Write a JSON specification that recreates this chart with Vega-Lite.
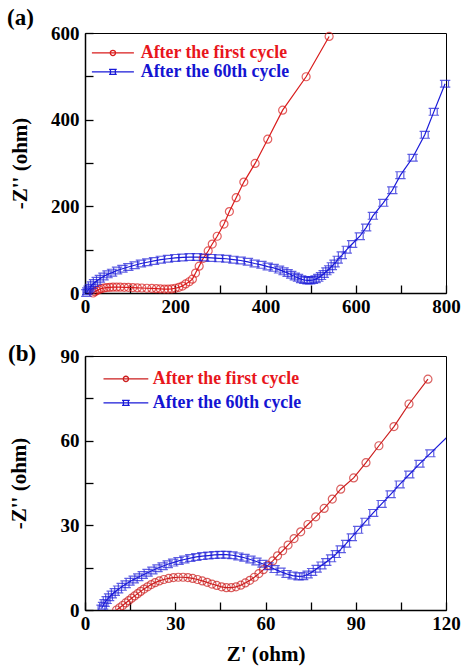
{
  "$schema": "https://vega.github.io/schema/vega-lite/v6.json",
  "padding": {"left": 6, "top": 6, "right": 10, "bottom": 5},
  "background": "white",
  "config": {
    "font": "Liberation Serif",
    "style": {
      "guide-label": {"font": "Liberation Serif", "fontWeight": "bold"},
      "guide-title": {"font": "Liberation Serif", "fontWeight": "bold"}
    },
    "view": {"stroke": "#000", "strokeWidth": 1},
    "axis": {
      "grid": false,
      "labelFlush": false,
      "labelFont": "Liberation Serif",
      "labelFontWeight": "bold",
      "labelFontSize": 19,
      "labelColor": "#000",
      "titleFont": "Liberation Serif",
      "titleFontWeight": "bold",
      "titleFontSize": 21,
      "titleColor": "#000",
      "domainColor": "#000",
      "domainWidth": 1.5,
      "tickColor": "#000",
      "tickWidth": 1.3,
      "tickSize": -8,
      "labelPadding": 14
    },
    "legend": {
      "labelFont": "Liberation Serif",
      "labelFontWeight": "bold",
      "labelFontSize": 17.8,
      "labelLimit": 400,
      "symbolSize": 49,
      "symbolStrokeWidth": 1.3,
      "symbolFillColor": "transparent",
      "padding": 0,
      "title": null
    }
  },
  "resolve": {"scale": {"color": "independent", "shape": "independent", "x": "independent", "y": "independent"}, "legend": {"color": "independent", "shape": "independent"}},
  "spacing": 25,
  "vconcat": [
    {
      "width": 361,
      "height": 260,
      "title": {"text": "(a)", "anchor": "start", "frame": "group", "dx": -78, "offset": -6, "fontSize": 23, "fontWeight": "bold", "font": "Liberation Serif", "color": "#000"},
      "data": {"values": [
        {"s": "After the first cycle", "x": 18, "y": 0},
        {"s": "After the first cycle", "x": 22, "y": 3},
        {"s": "After the first cycle", "x": 26, "y": 5.5},
        {"s": "After the first cycle", "x": 31, "y": 8},
        {"s": "After the first cycle", "x": 36, "y": 10},
        {"s": "After the first cycle", "x": 42, "y": 11.5},
        {"s": "After the first cycle", "x": 48, "y": 12.5},
        {"s": "After the first cycle", "x": 55, "y": 13},
        {"s": "After the first cycle", "x": 62, "y": 13.5},
        {"s": "After the first cycle", "x": 70, "y": 13.5},
        {"s": "After the first cycle", "x": 78, "y": 13.5},
        {"s": "After the first cycle", "x": 87, "y": 13},
        {"s": "After the first cycle", "x": 96, "y": 13},
        {"s": "After the first cycle", "x": 106, "y": 12.5},
        {"s": "After the first cycle", "x": 116, "y": 12},
        {"s": "After the first cycle", "x": 126, "y": 11.5},
        {"s": "After the first cycle", "x": 137, "y": 11},
        {"s": "After the first cycle", "x": 148, "y": 10.5},
        {"s": "After the first cycle", "x": 158, "y": 10},
        {"s": "After the first cycle", "x": 167, "y": 9.5},
        {"s": "After the first cycle", "x": 176, "y": 9},
        {"s": "After the first cycle", "x": 184, "y": 9},
        {"s": "After the first cycle", "x": 192, "y": 9.5},
        {"s": "After the first cycle", "x": 200, "y": 11},
        {"s": "After the first cycle", "x": 208, "y": 13},
        {"s": "After the first cycle", "x": 216, "y": 16},
        {"s": "After the first cycle", "x": 223, "y": 21},
        {"s": "After the first cycle", "x": 231, "y": 26},
        {"s": "After the first cycle", "x": 238, "y": 32},
        {"s": "After the first cycle", "x": 245, "y": 46},
        {"s": "After the first cycle", "x": 253, "y": 62},
        {"s": "After the first cycle", "x": 262, "y": 80},
        {"s": "After the first cycle", "x": 273, "y": 97},
        {"s": "After the first cycle", "x": 282, "y": 113},
        {"s": "After the first cycle", "x": 293, "y": 131},
        {"s": "After the first cycle", "x": 308, "y": 159},
        {"s": "After the first cycle", "x": 320, "y": 188},
        {"s": "After the first cycle", "x": 335, "y": 220},
        {"s": "After the first cycle", "x": 352, "y": 256},
        {"s": "After the first cycle", "x": 377, "y": 299},
        {"s": "After the first cycle", "x": 405, "y": 355},
        {"s": "After the first cycle", "x": 438, "y": 422},
        {"s": "After the first cycle", "x": 490, "y": 499},
        {"s": "After the first cycle", "x": 541, "y": 592},
        {"s": "After the 60th cycle", "x": 3, "y": 0},
        {"s": "After the 60th cycle", "x": 5, "y": 4},
        {"s": "After the 60th cycle", "x": 8, "y": 8},
        {"s": "After the 60th cycle", "x": 11, "y": 12},
        {"s": "After the 60th cycle", "x": 15, "y": 18},
        {"s": "After the 60th cycle", "x": 20, "y": 23},
        {"s": "After the 60th cycle", "x": 26, "y": 28},
        {"s": "After the 60th cycle", "x": 33, "y": 33},
        {"s": "After the 60th cycle", "x": 41, "y": 38},
        {"s": "After the 60th cycle", "x": 50, "y": 43},
        {"s": "After the 60th cycle", "x": 60, "y": 47},
        {"s": "After the 60th cycle", "x": 71, "y": 52},
        {"s": "After the 60th cycle", "x": 83, "y": 56},
        {"s": "After the 60th cycle", "x": 96, "y": 60},
        {"s": "After the 60th cycle", "x": 110, "y": 64},
        {"s": "After the 60th cycle", "x": 124, "y": 68},
        {"s": "After the 60th cycle", "x": 138, "y": 71},
        {"s": "After the 60th cycle", "x": 153, "y": 74},
        {"s": "After the 60th cycle", "x": 168, "y": 77},
        {"s": "After the 60th cycle", "x": 184, "y": 79},
        {"s": "After the 60th cycle", "x": 200, "y": 81},
        {"s": "After the 60th cycle", "x": 216, "y": 82},
        {"s": "After the 60th cycle", "x": 232, "y": 83},
        {"s": "After the 60th cycle", "x": 248, "y": 83},
        {"s": "After the 60th cycle", "x": 264, "y": 82},
        {"s": "After the 60th cycle", "x": 280, "y": 81},
        {"s": "After the 60th cycle", "x": 297, "y": 80},
        {"s": "After the 60th cycle", "x": 313, "y": 79},
        {"s": "After the 60th cycle", "x": 329, "y": 77},
        {"s": "After the 60th cycle", "x": 345, "y": 75},
        {"s": "After the 60th cycle", "x": 361, "y": 72},
        {"s": "After the 60th cycle", "x": 376, "y": 68},
        {"s": "After the 60th cycle", "x": 391, "y": 65},
        {"s": "After the 60th cycle", "x": 405, "y": 61},
        {"s": "After the 60th cycle", "x": 418, "y": 58},
        {"s": "After the 60th cycle", "x": 430, "y": 54},
        {"s": "After the 60th cycle", "x": 440, "y": 50},
        {"s": "After the 60th cycle", "x": 449, "y": 46},
        {"s": "After the 60th cycle", "x": 457, "y": 42},
        {"s": "After the 60th cycle", "x": 465, "y": 38},
        {"s": "After the 60th cycle", "x": 472, "y": 35},
        {"s": "After the 60th cycle", "x": 479, "y": 32},
        {"s": "After the 60th cycle", "x": 486, "y": 30},
        {"s": "After the 60th cycle", "x": 493, "y": 29},
        {"s": "After the 60th cycle", "x": 499, "y": 29},
        {"s": "After the 60th cycle", "x": 505, "y": 30},
        {"s": "After the 60th cycle", "x": 511, "y": 32},
        {"s": "After the 60th cycle", "x": 517, "y": 35},
        {"s": "After the 60th cycle", "x": 523, "y": 39},
        {"s": "After the 60th cycle", "x": 529, "y": 44},
        {"s": "After the 60th cycle", "x": 535, "y": 50},
        {"s": "After the 60th cycle", "x": 541, "y": 55},
        {"s": "After the 60th cycle", "x": 547, "y": 62},
        {"s": "After the 60th cycle", "x": 553, "y": 68},
        {"s": "After the 60th cycle", "x": 560, "y": 77},
        {"s": "After the 60th cycle", "x": 569, "y": 87},
        {"s": "After the 60th cycle", "x": 580, "y": 100},
        {"s": "After the 60th cycle", "x": 592, "y": 113},
        {"s": "After the 60th cycle", "x": 609, "y": 131},
        {"s": "After the 60th cycle", "x": 623, "y": 151},
        {"s": "After the 60th cycle", "x": 638, "y": 178},
        {"s": "After the 60th cycle", "x": 661, "y": 208},
        {"s": "After the 60th cycle", "x": 681, "y": 237},
        {"s": "After the 60th cycle", "x": 699, "y": 272},
        {"s": "After the 60th cycle", "x": 726, "y": 312},
        {"s": "After the 60th cycle", "x": 753, "y": 365},
        {"s": "After the 60th cycle", "x": 773, "y": 418},
        {"s": "After the 60th cycle", "x": 798, "y": 483}
      ]},
      "encoding": {
        "x": {"field": "x", "type": "quantitative", "scale": {"domain": [0, 800], "nice": false},
              "axis": {"values": [0, 100, 200, 300, 400, 500, 600, 700, 800], "labelExpr": "datum.value % 200 === 0 ? datum.label : ''", "title": null, "labelPadding": 12}},
        "y": {"field": "y", "type": "quantitative", "scale": {"domain": [0, 600], "nice": false},
              "axis": {"values": [0, 100, 200, 300, 400, 500, 600], "labelExpr": "datum.value % 200 === 0 ? datum.label : ''", "title": "-Z'' (ohm)", "titlePadding": 20}},
        "color": {"field": "s", "type": "nominal",
                  "scale": {"domain": ["After the first cycle", "After the 60th cycle"], "range": ["#d91c1c", "#1a1ad8"]},
                  "legend": {"orient": "top-left", "offset": 11, "symbolOffset": 8, "labelOffset": 19, "rowPadding": 0,
                    "encode": {"labels": {"update": {"fill": {"signal": "datum.value === 'After the first cycle' ? '#e8161c' : '#1414d2'"}}}}}}
      },
      "layer": [
        {"mark": {"type": "line", "strokeWidth": 1.2}},
        {"transform": [{"filter": "datum.s === 'After the first cycle'"}],
         "mark": {"type": "point", "filled": false, "strokeWidth": 1.2, "size": 64, "shape": "circle"}},
        {"transform": [{"filter": "datum.s === 'After the 60th cycle'"}],
         "mark": {"type": "point", "filled": false, "strokeWidth": 1.2, "size": 64, "shape": "M-0.85,-0.85H0.85V0.85H-0.85ZM-1.3,-0.85H1.3M-1.3,0.85H1.3"}},
        {"transform": [{"filter": "false"}],
         "mark": {"type": "point", "filled": false, "strokeWidth": 1.2},
         "encoding": {"shape": {"field": "s", "type": "nominal",
           "scale": {"domain": ["After the first cycle", "After the 60th cycle"], "range": ["M-6,0H6M-0.75,0A0.75,0.75 0 1,0 0.75,0A0.75,0.75 0 1,0 -0.75,0", "M-6,0H6M-0.7,-0.7H0.7V0.7H-0.7ZM-1.1,-0.7H1.1M-1.1,0.7H1.1"]},
           "legend": null}}}
      ]
    },
    {
      "width": 361,
      "height": 254,
      "title": {"text": "(b)", "anchor": "start", "frame": "group", "dx": -77, "offset": -19, "fontSize": 23, "fontWeight": "bold", "font": "Liberation Serif", "color": "#000"},
      "data": {"values": [
        {"s": "After the first cycle", "x": 10.5, "y": 0},
        {"s": "After the first cycle", "x": 11.5, "y": 0.8},
        {"s": "After the first cycle", "x": 12.5, "y": 1.6},
        {"s": "After the first cycle", "x": 13.5, "y": 2.5},
        {"s": "After the first cycle", "x": 14.5, "y": 3.3},
        {"s": "After the first cycle", "x": 15.5, "y": 4.2},
        {"s": "After the first cycle", "x": 16.5, "y": 5},
        {"s": "After the first cycle", "x": 17.5, "y": 5.8},
        {"s": "After the first cycle", "x": 18.5, "y": 6.6},
        {"s": "After the first cycle", "x": 19.6, "y": 7.4},
        {"s": "After the first cycle", "x": 20.8, "y": 8.2},
        {"s": "After the first cycle", "x": 22, "y": 9},
        {"s": "After the first cycle", "x": 23.3, "y": 9.7},
        {"s": "After the first cycle", "x": 24.7, "y": 10.3},
        {"s": "After the first cycle", "x": 26.2, "y": 10.8},
        {"s": "After the first cycle", "x": 27.8, "y": 11.2},
        {"s": "After the first cycle", "x": 29.4, "y": 11.5},
        {"s": "After the first cycle", "x": 31, "y": 11.6},
        {"s": "After the first cycle", "x": 32.6, "y": 11.6},
        {"s": "After the first cycle", "x": 34.2, "y": 11.5},
        {"s": "After the first cycle", "x": 35.8, "y": 11.2},
        {"s": "After the first cycle", "x": 37.4, "y": 10.8},
        {"s": "After the first cycle", "x": 39, "y": 10.3},
        {"s": "After the first cycle", "x": 40.6, "y": 9.8},
        {"s": "After the first cycle", "x": 42.2, "y": 9.2},
        {"s": "After the first cycle", "x": 43.8, "y": 8.7},
        {"s": "After the first cycle", "x": 45.4, "y": 8.2},
        {"s": "After the first cycle", "x": 47, "y": 7.9},
        {"s": "After the first cycle", "x": 48.6, "y": 7.9},
        {"s": "After the first cycle", "x": 50.2, "y": 8.2},
        {"s": "After the first cycle", "x": 51.8, "y": 8.8},
        {"s": "After the first cycle", "x": 53.3, "y": 9.6},
        {"s": "After the first cycle", "x": 54.8, "y": 10.5},
        {"s": "After the first cycle", "x": 56.3, "y": 11.6},
        {"s": "After the first cycle", "x": 57.8, "y": 12.9},
        {"s": "After the first cycle", "x": 59.3, "y": 14.3},
        {"s": "After the first cycle", "x": 60.8, "y": 15.8},
        {"s": "After the first cycle", "x": 62.4, "y": 17.4},
        {"s": "After the first cycle", "x": 64, "y": 19.2},
        {"s": "After the first cycle", "x": 65.7, "y": 21},
        {"s": "After the first cycle", "x": 67.5, "y": 23},
        {"s": "After the first cycle", "x": 69.5, "y": 25.3},
        {"s": "After the first cycle", "x": 71.7, "y": 27.7},
        {"s": "After the first cycle", "x": 74.1, "y": 30.3},
        {"s": "After the first cycle", "x": 76.7, "y": 33},
        {"s": "After the first cycle", "x": 79.5, "y": 36},
        {"s": "After the first cycle", "x": 82.2, "y": 39.3},
        {"s": "After the first cycle", "x": 85, "y": 42.8},
        {"s": "After the first cycle", "x": 89.3, "y": 46.8},
        {"s": "After the first cycle", "x": 93.4, "y": 52.2},
        {"s": "After the first cycle", "x": 97.7, "y": 58.2},
        {"s": "After the first cycle", "x": 102.7, "y": 65},
        {"s": "After the first cycle", "x": 107.7, "y": 73},
        {"s": "After the first cycle", "x": 114, "y": 81.8},
        {"s": "After the 60th cycle", "x": 5.5, "y": 0.5},
        {"s": "After the 60th cycle", "x": 6, "y": 1.5},
        {"s": "After the 60th cycle", "x": 6.5, "y": 2.5},
        {"s": "After the 60th cycle", "x": 7.2, "y": 3.5},
        {"s": "After the 60th cycle", "x": 8, "y": 4.5},
        {"s": "After the 60th cycle", "x": 8.9, "y": 5.5},
        {"s": "After the 60th cycle", "x": 9.9, "y": 6.4},
        {"s": "After the 60th cycle", "x": 11, "y": 7.3},
        {"s": "After the 60th cycle", "x": 12.2, "y": 8.2},
        {"s": "After the 60th cycle", "x": 13.5, "y": 9.1},
        {"s": "After the 60th cycle", "x": 14.8, "y": 10},
        {"s": "After the 60th cycle", "x": 16.2, "y": 10.8},
        {"s": "After the 60th cycle", "x": 17.7, "y": 11.6},
        {"s": "After the 60th cycle", "x": 19.2, "y": 12.4},
        {"s": "After the 60th cycle", "x": 20.8, "y": 13.2},
        {"s": "After the 60th cycle", "x": 22.4, "y": 14},
        {"s": "After the 60th cycle", "x": 24.1, "y": 14.8},
        {"s": "After the 60th cycle", "x": 25.8, "y": 15.5},
        {"s": "After the 60th cycle", "x": 27.5, "y": 16.2},
        {"s": "After the 60th cycle", "x": 29.3, "y": 16.8},
        {"s": "After the 60th cycle", "x": 31.1, "y": 17.4},
        {"s": "After the 60th cycle", "x": 33, "y": 17.9},
        {"s": "After the 60th cycle", "x": 35, "y": 18.4},
        {"s": "After the 60th cycle", "x": 37, "y": 18.8},
        {"s": "After the 60th cycle", "x": 39, "y": 19.1},
        {"s": "After the 60th cycle", "x": 41, "y": 19.3},
        {"s": "After the 60th cycle", "x": 43, "y": 19.5},
        {"s": "After the 60th cycle", "x": 45, "y": 19.6},
        {"s": "After the 60th cycle", "x": 47, "y": 19.6},
        {"s": "After the 60th cycle", "x": 49, "y": 19.4},
        {"s": "After the 60th cycle", "x": 51, "y": 19},
        {"s": "After the 60th cycle", "x": 53, "y": 18.5},
        {"s": "After the 60th cycle", "x": 55, "y": 17.9},
        {"s": "After the 60th cycle", "x": 57, "y": 17.2},
        {"s": "After the 60th cycle", "x": 59, "y": 16.4},
        {"s": "After the 60th cycle", "x": 61, "y": 15.5},
        {"s": "After the 60th cycle", "x": 63, "y": 14.5},
        {"s": "After the 60th cycle", "x": 65, "y": 13.6},
        {"s": "After the 60th cycle", "x": 67, "y": 12.8},
        {"s": "After the 60th cycle", "x": 69, "y": 12.2},
        {"s": "After the 60th cycle", "x": 71, "y": 11.9},
        {"s": "After the 60th cycle", "x": 72.5, "y": 12},
        {"s": "After the 60th cycle", "x": 74, "y": 12.6},
        {"s": "After the 60th cycle", "x": 75.5, "y": 13.5},
        {"s": "After the 60th cycle", "x": 77, "y": 14.6},
        {"s": "After the 60th cycle", "x": 78.6, "y": 15.8},
        {"s": "After the 60th cycle", "x": 80.2, "y": 17},
        {"s": "After the 60th cycle", "x": 81.8, "y": 18.3},
        {"s": "After the 60th cycle", "x": 83.4, "y": 19.8},
        {"s": "After the 60th cycle", "x": 85, "y": 21.5},
        {"s": "After the 60th cycle", "x": 86.8, "y": 23.5},
        {"s": "After the 60th cycle", "x": 88.7, "y": 25.8},
        {"s": "After the 60th cycle", "x": 90.8, "y": 28.4},
        {"s": "After the 60th cycle", "x": 93.2, "y": 31.3},
        {"s": "After the 60th cycle", "x": 95.8, "y": 34.4},
        {"s": "After the 60th cycle", "x": 98.6, "y": 37.6},
        {"s": "After the 60th cycle", "x": 101.6, "y": 41},
        {"s": "After the 60th cycle", "x": 104.6, "y": 44.5},
        {"s": "After the 60th cycle", "x": 107.8, "y": 48},
        {"s": "After the 60th cycle", "x": 111.2, "y": 51.8},
        {"s": "After the 60th cycle", "x": 114.8, "y": 55.5},
        {"s": "After the 60th cycle", "x": 123, "y": 64}
      ]},
      "encoding": {
        "x": {"field": "x", "type": "quantitative", "scale": {"domain": [0, 120], "nice": false},
              "axis": {"values": [0, 15, 30, 45, 60, 75, 90, 105, 120], "labelExpr": "datum.value % 30 === 0 ? datum.label : ''", "title": "Z' (ohm)", "titlePadding": 10, "labelPadding": 12}},
        "y": {"field": "y", "type": "quantitative", "scale": {"domain": [0, 90], "nice": false},
              "axis": {"values": [0, 15, 30, 45, 60, 75, 90], "labelExpr": "datum.value % 30 === 0 ? datum.label : ''", "title": "-Z'' (ohm)", "titlePadding": 31}},
        "color": {"field": "s", "type": "nominal",
                  "scale": {"domain": ["After the first cycle", "After the 60th cycle"], "range": ["#cc1e1e", "#1a1ad8"]},
                  "legend": {"orient": "top-left", "offset": 14, "symbolOffset": 18, "labelOffset": 18, "rowPadding": 5,
                    "encode": {"labels": {"update": {"fill": {"signal": "datum.value === 'After the first cycle' ? '#e8161c' : '#1414d2'"}}}}}}
      },
      "layer": [
        {"mark": {"type": "line", "strokeWidth": 1.2, "clip": true}},
        {"transform": [{"filter": "datum.s === 'After the first cycle'"}],
         "mark": {"type": "point", "filled": false, "strokeWidth": 1.2, "size": 64, "shape": "circle", "clip": true}},
        {"transform": [{"filter": "datum.s === 'After the 60th cycle'"}],
         "mark": {"type": "point", "filled": false, "strokeWidth": 1.2, "size": 64, "shape": "M-0.85,-0.85H0.85V0.85H-0.85ZM-1.3,-0.85H1.3M-1.3,0.85H1.3", "clip": true}},
        {"transform": [{"filter": "false"}],
         "mark": {"type": "point", "filled": false, "strokeWidth": 1.2},
         "encoding": {"shape": {"field": "s", "type": "nominal",
           "scale": {"domain": ["After the first cycle", "After the 60th cycle"], "range": ["M-6.4,0H6.4M-0.75,0A0.75,0.75 0 1,0 0.75,0A0.75,0.75 0 1,0 -0.75,0", "M-6.4,0H6.4M-0.7,-0.7H0.7V0.7H-0.7ZM-1.1,-0.7H1.1M-1.1,0.7H1.1"]},
           "legend": null}}}
      ]
    }
  ]
}
